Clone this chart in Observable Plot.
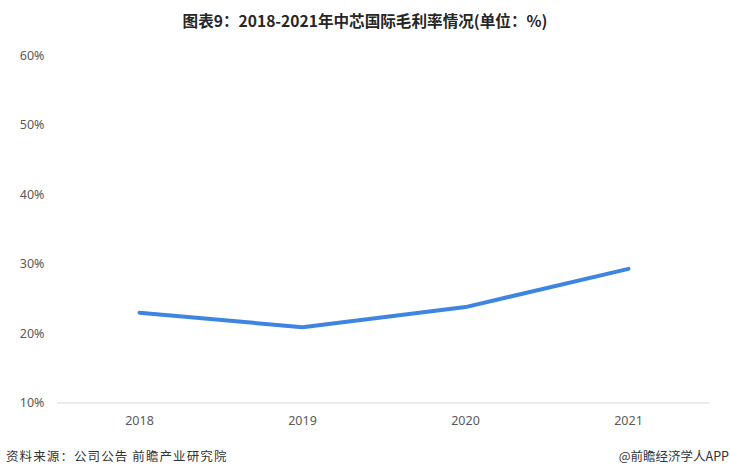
<!DOCTYPE html>
<html><head><meta charset="utf-8">
<script src="https://cdn.jsdelivr.net/npm/d3@7"></script>
<script src="https://cdn.jsdelivr.net/npm/@observablehq/plot@0.6"></script>
<style>
body{margin:0;background:#fff;width:730px;height:476px;overflow:hidden;position:relative;font-family:"Noto Sans CJK SC","Noto Sans",sans-serif;}
#title{position:absolute;top:0;left:0;width:730px;height:40px;line-height:40px;text-align:center;font-weight:bold;font-size:15.6px;color:#262626;}
#chart{position:absolute;top:40px;left:0;}
#src{position:absolute;left:6px;top:446px;font-size:12.5px;letter-spacing:1.1px;color:#333;}
#app{position:absolute;right:1px;top:446px;font-size:12.5px;color:#333;}
</style></head>
<body>
<div id="title">图表9：2018-2021年中芯国际毛利率情况(单位：%)</div>
<div id="chart"></div>
<div id="src">资料来源：公司公告 前瞻产业研究院</div>
<div id="app">@前瞻经济学人APP</div>
<script>
const years = ["2018", "2019", "2020", "2021"];
const margins = [23.0, 20.9, 23.8, 29.3];
const yTicks = [10, 20, 30, 40, 50, 60];
const data = years.map((y, i) => ({year: y, value: margins[i]}));

const plot = Plot.plot({
  width: 730,
  height: 400,
  marginLeft: 57,
  marginRight: 20,
  marginTop: 15,
  marginBottom: 37.5,
  style: {fontFamily: "'Noto Sans', 'DejaVu Sans', sans-serif", fontSize: "12.5px", color: "#595959", background: "#fff"},
  x: {type: "point", domain: years, padding: 0.5, label: null},
  y: {domain: [10, 60], label: null},
  marks: [
    Plot.axisY({ticks: yTicks, tickSize: 0, tickPadding: 13, tickFormat: d => d + "%", fill: "#595959", fontSize: 12.5}),
    Plot.axisX({tickSize: 0, tickPadding: 13, fill: "#595959", fontSize: 12.5}),
    Plot.ruleY([10], {stroke: "#d9d9d9", strokeWidth: 1}),
    Plot.line(data, {x: "year", y: "value", stroke: "#3d85e0", strokeWidth: 4, strokeLinecap: "round", strokeLinejoin: "round"})
  ]
});
document.getElementById("chart").appendChild(plot);
</script>
</body></html>
